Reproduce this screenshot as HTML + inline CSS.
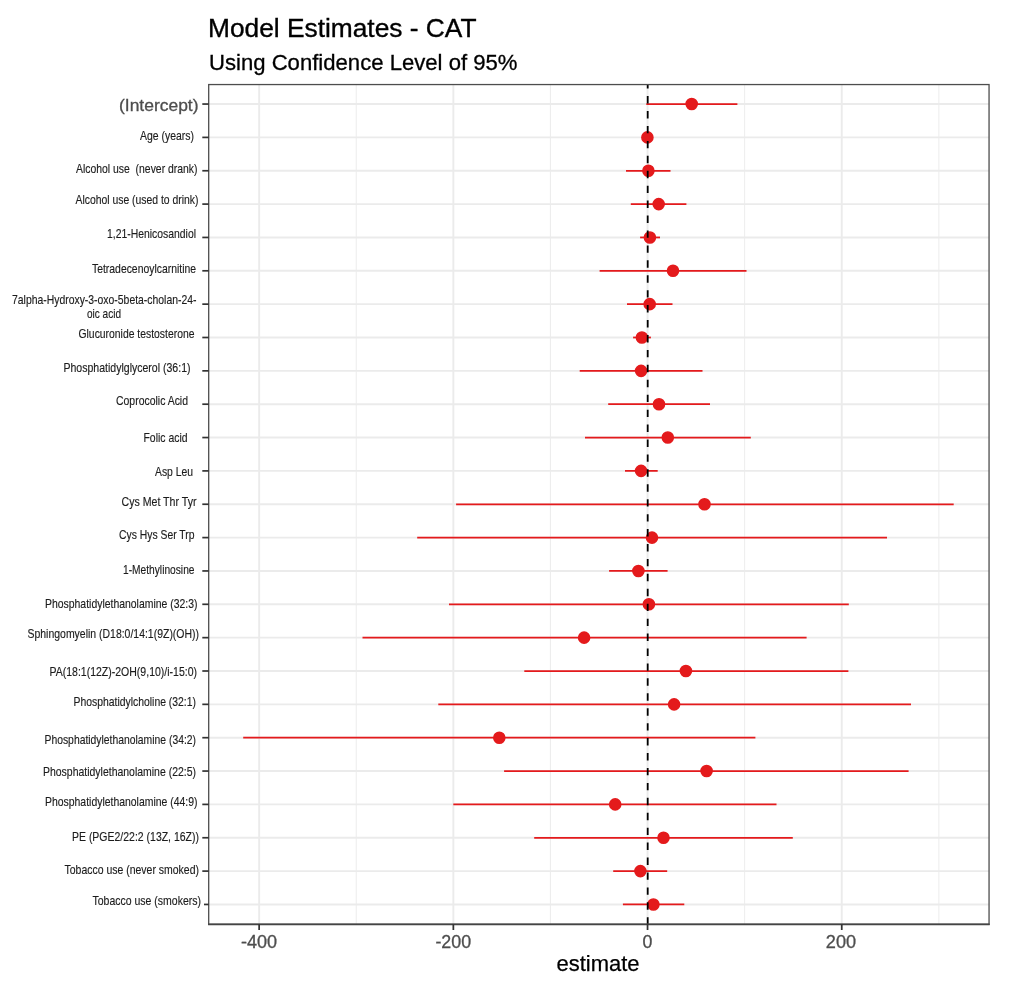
<!DOCTYPE html>
<html lang="en"><head><meta charset="utf-8"><title>Model Estimates - CAT</title>
<style>html,body{margin:0;padding:0;background:#fff}body{width:1009px;height:994px;overflow:hidden}svg{display:block;filter:blur(.35px)}text{font-family:"Liberation Sans",Arial,Helvetica,sans-serif}.lab{font-size:11.9px;fill:#1c1c1c;stroke:#1c1c1c;stroke-width:.14px}.ax{font-size:17.1px;fill:#4d4d4d;stroke:#4d4d4d;stroke-width:.3px}</style></head><body>
<svg width="1009" height="994" viewBox="0 0 1009 994">
<rect width="1009" height="994" fill="#fff"/>
<g stroke="#ebebeb" fill="none">
<line x1="356.25" x2="356.25" y1="84.55" y2="924.30" stroke-width="0.95"/>
<line x1="550.45" x2="550.45" y1="84.55" y2="924.30" stroke-width="0.95"/>
<line x1="744.65" x2="744.65" y1="84.55" y2="924.30" stroke-width="0.95"/>
<line x1="938.85" x2="938.85" y1="84.55" y2="924.30" stroke-width="0.95"/>
<line x1="259.15" x2="259.15" y1="84.55" y2="924.30" stroke-width="1.9"/>
<line x1="453.35" x2="453.35" y1="84.55" y2="924.30" stroke-width="1.9"/>
<line x1="647.55" x2="647.55" y1="84.55" y2="924.30" stroke-width="1.9"/>
<line x1="841.75" x2="841.75" y1="84.55" y2="924.30" stroke-width="1.9"/>
<line x1="208.70" x2="989.05" y1="104.05" y2="104.05" stroke-width="1.9"/>
<line x1="208.70" x2="989.05" y1="137.40" y2="137.40" stroke-width="1.9"/>
<line x1="208.70" x2="989.05" y1="170.75" y2="170.75" stroke-width="1.9"/>
<line x1="208.70" x2="989.05" y1="204.10" y2="204.10" stroke-width="1.9"/>
<line x1="208.70" x2="989.05" y1="237.45" y2="237.45" stroke-width="1.9"/>
<line x1="208.70" x2="989.05" y1="270.80" y2="270.80" stroke-width="1.9"/>
<line x1="208.70" x2="989.05" y1="304.15" y2="304.15" stroke-width="1.9"/>
<line x1="208.70" x2="989.05" y1="337.50" y2="337.50" stroke-width="1.9"/>
<line x1="208.70" x2="989.05" y1="370.85" y2="370.85" stroke-width="1.9"/>
<line x1="208.70" x2="989.05" y1="404.20" y2="404.20" stroke-width="1.9"/>
<line x1="208.70" x2="989.05" y1="437.55" y2="437.55" stroke-width="1.9"/>
<line x1="208.70" x2="989.05" y1="470.90" y2="470.90" stroke-width="1.9"/>
<line x1="208.70" x2="989.05" y1="504.25" y2="504.25" stroke-width="1.9"/>
<line x1="208.70" x2="989.05" y1="537.60" y2="537.60" stroke-width="1.9"/>
<line x1="208.70" x2="989.05" y1="570.95" y2="570.95" stroke-width="1.9"/>
<line x1="208.70" x2="989.05" y1="604.30" y2="604.30" stroke-width="1.9"/>
<line x1="208.70" x2="989.05" y1="637.65" y2="637.65" stroke-width="1.9"/>
<line x1="208.70" x2="989.05" y1="671.00" y2="671.00" stroke-width="1.9"/>
<line x1="208.70" x2="989.05" y1="704.35" y2="704.35" stroke-width="1.9"/>
<line x1="208.70" x2="989.05" y1="737.70" y2="737.70" stroke-width="1.9"/>
<line x1="208.70" x2="989.05" y1="771.05" y2="771.05" stroke-width="1.9"/>
<line x1="208.70" x2="989.05" y1="804.40" y2="804.40" stroke-width="1.9"/>
<line x1="208.70" x2="989.05" y1="837.75" y2="837.75" stroke-width="1.9"/>
<line x1="208.70" x2="989.05" y1="871.10" y2="871.10" stroke-width="1.9"/>
<line x1="208.70" x2="989.05" y1="904.45" y2="904.45" stroke-width="1.9"/>
</g>
<g stroke="#e41a1c" stroke-width="1.75" fill="#e41a1c">
<line x1="646.3" x2="737.4" y1="104.05" y2="104.05"/>
<line x1="646.9" x2="647.9" y1="137.40" y2="137.40"/>
<line x1="626.0" x2="670.5" y1="170.75" y2="170.75"/>
<line x1="630.8" x2="686.4" y1="204.10" y2="204.10"/>
<line x1="640.1" x2="660.0" y1="237.45" y2="237.45"/>
<line x1="599.6" x2="746.5" y1="270.80" y2="270.80"/>
<line x1="627.0" x2="672.5" y1="304.15" y2="304.15"/>
<line x1="633.1" x2="650.9" y1="337.50" y2="337.50"/>
<line x1="579.7" x2="702.5" y1="370.85" y2="370.85"/>
<line x1="608.2" x2="710.0" y1="404.20" y2="404.20"/>
<line x1="585.0" x2="750.8" y1="437.55" y2="437.55"/>
<line x1="625.0" x2="657.7" y1="470.90" y2="470.90"/>
<line x1="456.1" x2="953.7" y1="504.25" y2="504.25"/>
<line x1="417.2" x2="887.0" y1="537.60" y2="537.60"/>
<line x1="609.1" x2="667.6" y1="570.95" y2="570.95"/>
<line x1="449.0" x2="848.8" y1="604.30" y2="604.30"/>
<line x1="362.5" x2="806.6" y1="637.65" y2="637.65"/>
<line x1="524.3" x2="848.4" y1="671.00" y2="671.00"/>
<line x1="438.3" x2="911.0" y1="704.35" y2="704.35"/>
<line x1="243.2" x2="755.4" y1="737.70" y2="737.70"/>
<line x1="504.1" x2="908.6" y1="771.05" y2="771.05"/>
<line x1="453.3" x2="776.5" y1="804.40" y2="804.40"/>
<line x1="534.2" x2="792.8" y1="837.75" y2="837.75"/>
<line x1="613.2" x2="667.2" y1="871.10" y2="871.10"/>
<line x1="622.9" x2="684.3" y1="904.45" y2="904.45"/>
<circle cx="691.7" cy="104.05" r="5.5" stroke-width="1.6"/>
<circle cx="647.4" cy="137.40" r="5.5" stroke-width="1.6"/>
<circle cx="648.4" cy="170.75" r="5.5" stroke-width="1.6"/>
<circle cx="658.7" cy="204.10" r="5.5" stroke-width="1.6"/>
<circle cx="649.9" cy="237.45" r="5.5" stroke-width="1.6"/>
<circle cx="673.0" cy="270.80" r="5.5" stroke-width="1.6"/>
<circle cx="649.7" cy="304.15" r="5.5" stroke-width="1.6"/>
<circle cx="641.9" cy="337.50" r="5.5" stroke-width="1.6"/>
<circle cx="641.1" cy="370.85" r="5.5" stroke-width="1.6"/>
<circle cx="659.0" cy="404.20" r="5.5" stroke-width="1.6"/>
<circle cx="667.8" cy="437.55" r="5.5" stroke-width="1.6"/>
<circle cx="641.1" cy="470.90" r="5.5" stroke-width="1.6"/>
<circle cx="704.5" cy="504.25" r="5.5" stroke-width="1.6"/>
<circle cx="652.0" cy="537.60" r="5.5" stroke-width="1.6"/>
<circle cx="638.4" cy="570.95" r="5.5" stroke-width="1.6"/>
<circle cx="648.9" cy="604.30" r="5.5" stroke-width="1.6"/>
<circle cx="584.1" cy="637.65" r="5.5" stroke-width="1.6"/>
<circle cx="685.9" cy="671.00" r="5.5" stroke-width="1.6"/>
<circle cx="674.1" cy="704.35" r="5.5" stroke-width="1.6"/>
<circle cx="499.3" cy="737.70" r="5.5" stroke-width="1.6"/>
<circle cx="706.6" cy="771.05" r="5.5" stroke-width="1.6"/>
<circle cx="615.2" cy="804.40" r="5.5" stroke-width="1.6"/>
<circle cx="663.5" cy="837.75" r="5.5" stroke-width="1.6"/>
<circle cx="640.4" cy="871.10" r="5.5" stroke-width="1.6"/>
<circle cx="653.4" cy="904.45" r="5.5" stroke-width="1.6"/>
</g>
<line x1="647.70" x2="647.70" y1="84.55" y2="924.30" stroke="#000" stroke-width="1.8" stroke-dasharray="7.4 7.53" stroke-dashoffset="3.38"/>
<rect x="208.70" y="84.55" width="780.35" height="839.75" fill="none" stroke="#4d4d4d" stroke-width="1.3"/>
<line x1="208.05" x2="989.70" y1="924.30" y2="924.30" stroke="#444" stroke-width="1.65"/>
<g stroke="#333" stroke-width="1.7">
<line x1="202.3" x2="208.70" y1="104.05" y2="104.05"/>
<line x1="202.3" x2="208.70" y1="137.40" y2="137.40"/>
<line x1="202.3" x2="208.70" y1="170.75" y2="170.75"/>
<line x1="202.3" x2="208.70" y1="204.10" y2="204.10"/>
<line x1="202.3" x2="208.70" y1="237.45" y2="237.45"/>
<line x1="202.3" x2="208.70" y1="270.80" y2="270.80"/>
<line x1="202.3" x2="208.70" y1="304.15" y2="304.15"/>
<line x1="202.3" x2="208.70" y1="337.50" y2="337.50"/>
<line x1="202.3" x2="208.70" y1="370.85" y2="370.85"/>
<line x1="202.3" x2="208.70" y1="404.20" y2="404.20"/>
<line x1="202.3" x2="208.70" y1="437.55" y2="437.55"/>
<line x1="202.3" x2="208.70" y1="470.90" y2="470.90"/>
<line x1="202.3" x2="208.70" y1="504.25" y2="504.25"/>
<line x1="202.3" x2="208.70" y1="537.60" y2="537.60"/>
<line x1="202.3" x2="208.70" y1="570.95" y2="570.95"/>
<line x1="202.3" x2="208.70" y1="604.30" y2="604.30"/>
<line x1="202.3" x2="208.70" y1="637.65" y2="637.65"/>
<line x1="202.3" x2="208.70" y1="671.00" y2="671.00"/>
<line x1="202.3" x2="208.70" y1="704.35" y2="704.35"/>
<line x1="202.3" x2="208.70" y1="737.70" y2="737.70"/>
<line x1="202.3" x2="208.70" y1="771.05" y2="771.05"/>
<line x1="202.3" x2="208.70" y1="804.40" y2="804.40"/>
<line x1="202.3" x2="208.70" y1="837.75" y2="837.75"/>
<line x1="202.3" x2="208.70" y1="871.10" y2="871.10"/>
<line x1="204.0" x2="208.70" y1="904.45" y2="904.45"/>
<line x1="259.15" x2="259.15" y1="924.30" y2="930.00" stroke-width="1.75"/>
<line x1="453.35" x2="453.35" y1="924.30" y2="930.00" stroke-width="1.75"/>
<line x1="647.55" x2="647.55" y1="924.30" y2="930.00" stroke-width="1.75"/>
<line x1="841.75" x2="841.75" y1="924.30" y2="930.00" stroke-width="1.75"/>
</g>
<text class="ax" x="118.97" y="111.0" textLength="79.57" lengthAdjust="spacingAndGlyphs" xml:space="preserve">(Intercept)</text>
<text class="lab" x="139.99" y="139.8" textLength="54.01" lengthAdjust="spacingAndGlyphs" xml:space="preserve">Age (years)</text>
<text class="lab" x="76.00" y="172.5" textLength="121.50" lengthAdjust="spacingAndGlyphs" xml:space="preserve">Alcohol use  (never drank)</text>
<text class="lab" x="75.50" y="203.8" textLength="123.00" lengthAdjust="spacingAndGlyphs" xml:space="preserve">Alcohol use (used to drink)</text>
<text class="lab" x="106.99" y="238.1" textLength="89.02" lengthAdjust="spacingAndGlyphs" xml:space="preserve">1,21-Henicosandiol</text>
<text class="lab" x="92.00" y="272.9" textLength="104.01" lengthAdjust="spacingAndGlyphs" xml:space="preserve">Tetradecenoylcarnitine</text>
<text class="lab" x="12.00" y="304.3" textLength="184.50" lengthAdjust="spacingAndGlyphs" xml:space="preserve">7alpha-Hydroxy-3-oxo-5beta-cholan-24-</text>
<text class="lab" x="78.49" y="338.1" textLength="116.01" lengthAdjust="spacingAndGlyphs" xml:space="preserve">Glucuronide testosterone</text>
<text class="lab" x="63.49" y="371.6" textLength="127.03" lengthAdjust="spacingAndGlyphs" xml:space="preserve">Phosphatidylglycerol (36:1)</text>
<text class="lab" x="116.00" y="404.9" textLength="72.00" lengthAdjust="spacingAndGlyphs" xml:space="preserve">Coprocolic Acid</text>
<text class="lab" x="143.50" y="441.5" textLength="44.01" lengthAdjust="spacingAndGlyphs" xml:space="preserve">Folic acid</text>
<text class="lab" x="154.99" y="475.5" textLength="38.01" lengthAdjust="spacingAndGlyphs" xml:space="preserve">Asp Leu</text>
<text class="lab" x="121.50" y="506.4" textLength="75.01" lengthAdjust="spacingAndGlyphs" xml:space="preserve">Cys Met Thr Tyr</text>
<text class="lab" x="118.99" y="538.7" textLength="75.51" lengthAdjust="spacingAndGlyphs" xml:space="preserve">Cys Hys Ser Trp</text>
<text class="lab" x="122.99" y="573.7" textLength="71.51" lengthAdjust="spacingAndGlyphs" xml:space="preserve">1-Methylinosine</text>
<text class="lab" x="45.00" y="608.2" textLength="152.50" lengthAdjust="spacingAndGlyphs" xml:space="preserve">Phosphatidylethanolamine (32:3)</text>
<text class="lab" x="27.50" y="637.6" textLength="171.51" lengthAdjust="spacingAndGlyphs" xml:space="preserve">Sphingomyelin (D18:0/14:1(9Z)(OH))</text>
<text class="lab" x="49.50" y="675.9" textLength="147.51" lengthAdjust="spacingAndGlyphs" xml:space="preserve">PA(18:1(12Z)-2OH(9,10)/i-15:0)</text>
<text class="lab" x="73.50" y="706.0" textLength="122.51" lengthAdjust="spacingAndGlyphs" xml:space="preserve">Phosphatidylcholine (32:1)</text>
<text class="lab" x="44.50" y="744.2" textLength="151.51" lengthAdjust="spacingAndGlyphs" xml:space="preserve">Phosphatidylethanolamine (34:2)</text>
<text class="lab" x="42.99" y="776.1" textLength="153.01" lengthAdjust="spacingAndGlyphs" xml:space="preserve">Phosphatidylethanolamine (22:5)</text>
<text class="lab" x="45.00" y="806.0" textLength="152.50" lengthAdjust="spacingAndGlyphs" xml:space="preserve">Phosphatidylethanolamine (44:9)</text>
<text class="lab" x="71.99" y="841.3" textLength="127.02" lengthAdjust="spacingAndGlyphs" xml:space="preserve">PE (PGE2/22:2 (13Z, 16Z))</text>
<text class="lab" x="64.50" y="874.4" textLength="134.50" lengthAdjust="spacingAndGlyphs" xml:space="preserve">Tobacco use (never smoked)</text>
<text class="lab" x="92.49" y="904.9" textLength="108.51" lengthAdjust="spacingAndGlyphs" xml:space="preserve">Tobacco use (smokers)</text>
<text class="lab" x="86.98" y="318.4" textLength="34.04" lengthAdjust="spacingAndGlyphs">oic acid</text>
<text class="ax" style="font-size:17.6px" x="240.92" y="947.8" textLength="36.15" lengthAdjust="spacingAndGlyphs">-400</text>
<text class="ax" style="font-size:17.6px" x="435.43" y="947.8" textLength="35.66" lengthAdjust="spacingAndGlyphs">-200</text>
<text class="ax" style="font-size:17.6px" x="642.53" y="947.8" textLength="9.87" lengthAdjust="spacingAndGlyphs">0</text>
<text class="ax" style="font-size:17.6px" x="825.86" y="947.8" textLength="30.27" lengthAdjust="spacingAndGlyphs">200</text>
<text x="556.49" y="971.4" font-size="21.2" fill="#000" stroke="#000" stroke-width=".25" textLength="83.02" lengthAdjust="spacingAndGlyphs">estimate</text>
<text x="207.99" y="37.1" font-size="25.4" fill="#000" stroke="#000" stroke-width=".35" textLength="268.51" lengthAdjust="spacingAndGlyphs">Model Estimates - CAT</text>
<text x="208.99" y="69.8" font-size="21.6" fill="#000" stroke="#000" stroke-width=".3" textLength="308.51" lengthAdjust="spacingAndGlyphs">Using Confidence Level of 95%</text>
</svg></body></html>
